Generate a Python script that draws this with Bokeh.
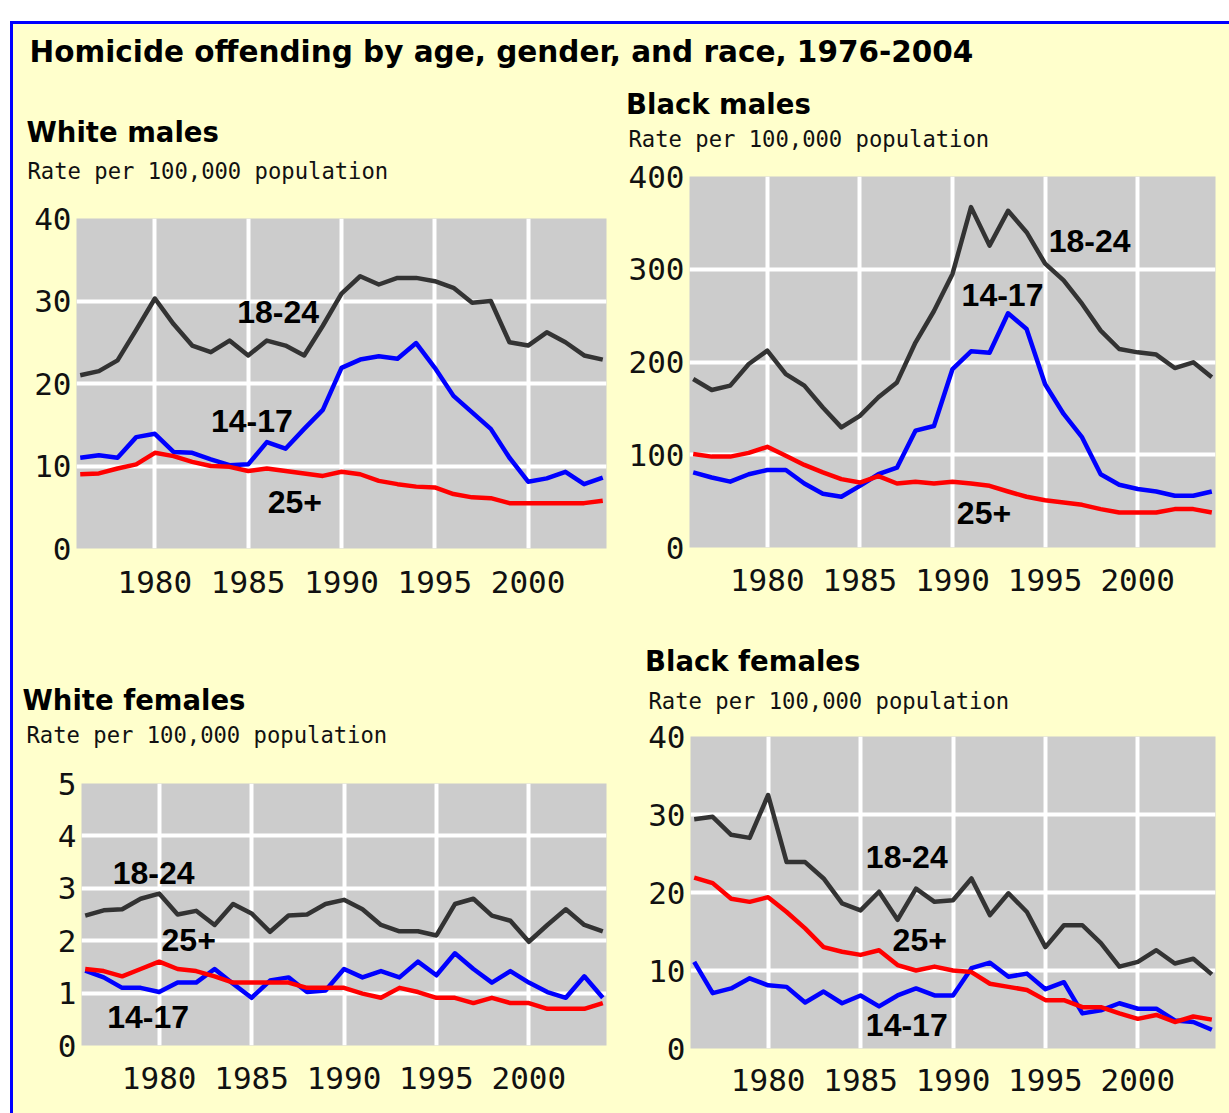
from bokeh.plotting import figure
from bokeh.models import Range1d, FixedTicker, Label, Spacer
from bokeh.layouts import row, column
from bokeh.embed import file_html
from bokeh.resources import INLINE

# ---------------- data ----------------
years = list(range(1976, 2005))

white_males_18_24 = [21.0, 21.5, 22.8, 26.5, 30.3, 27.2, 24.6, 23.8, 25.2, 23.4,
                     25.2, 24.6, 23.4, 27.0, 30.9, 33.0, 32.0, 32.8, 32.8, 32.4,
                     31.6, 29.8, 30.0, 25.0, 24.6, 26.2, 25.0, 23.4, 22.9]
white_males_14_17 = [11.0, 11.3, 11.0, 13.5, 13.9, 11.7, 11.6, 10.8, 10.1, 10.2,
                     12.9, 12.1, 14.5, 16.8, 21.9, 22.9, 23.3, 23.0, 24.9, 21.9,
                     18.5, 16.5, 14.5, 11.0, 8.1, 8.5, 9.3, 7.8, 8.6]
white_males_25p = [9.0, 9.1, 9.7, 10.2, 11.6, 11.2, 10.5, 10.0, 9.9, 9.4,
                   9.7, 9.4, 9.1, 8.8, 9.3, 9.0, 8.2, 7.8, 7.5, 7.4,
                   6.6, 6.2, 6.1, 5.5, 5.5, 5.5, 5.5, 5.5, 5.8]

black_males_18_24 = [181.7, 169.8, 174.5, 197.8, 212.2, 187.0, 174.5, 151.0, 129.5, 142.0,
                     162.0, 178.0, 221.0, 255.0, 295.0, 367.0, 325.5, 363.0, 340.0, 306.0,
                     288.0, 262.6, 233.8, 214.0, 210.4, 208.0, 193.5, 199.6, 183.5]
black_males_14_17 = [81.0, 75.5, 71.0, 79.0, 83.5, 83.5, 69.0, 58.0, 54.7, 66.5,
                     79.0, 86.0, 126.0, 131.0, 192.4, 211.5, 210.0, 252.5, 235.6, 176.0,
                     144.0, 118.7, 79.0, 67.6, 63.0, 60.4, 55.8, 55.8, 60.4]
black_males_25p = [100.7, 98.0, 98.0, 102.0, 108.6, 99.0, 89.0, 81.0, 73.7, 70.0,
                   77.0, 69.0, 71.0, 69.0, 71.0, 69.0, 66.5, 60.4, 54.7, 51.0,
                   48.6, 46.0, 41.4, 37.8, 37.8, 37.8, 41.4, 41.4, 37.8]

white_females_18_24 = [2.48, 2.58, 2.60, 2.80, 2.90, 2.50, 2.57, 2.30, 2.70, 2.52,
                       2.17, 2.48, 2.50, 2.70, 2.78, 2.60, 2.30, 2.18, 2.18, 2.10,
                       2.70, 2.80, 2.48, 2.38, 1.98, 2.30, 2.60, 2.30, 2.18]
white_females_14_17 = [1.43, 1.30, 1.10, 1.10, 1.02, 1.20, 1.20, 1.46, 1.18, 0.91,
                       1.24, 1.30, 1.02, 1.05, 1.46, 1.30, 1.42, 1.30, 1.60, 1.34,
                       1.76, 1.46, 1.20, 1.42, 1.20, 1.02, 0.91, 1.32, 0.91]
white_females_25p = [1.46, 1.42, 1.32, 1.46, 1.60, 1.46, 1.42, 1.32, 1.20, 1.20,
                     1.20, 1.20, 1.10, 1.10, 1.10, 0.99, 0.91, 1.10, 1.02, 0.91,
                     0.91, 0.81, 0.91, 0.81, 0.81, 0.70, 0.70, 0.70, 0.81]

black_females_18_24 = [29.4, 29.7, 27.4, 27.0, 32.5, 23.9, 23.9, 21.8, 18.6, 17.7,
                       20.1, 16.5, 20.5, 18.8, 19.0, 21.8, 17.1, 19.9, 17.5, 13.0,
                       15.8, 15.8, 13.5, 10.5, 11.1, 12.6, 10.9, 11.5, 9.5]
black_females_14_17 = [11.1, 7.1, 7.7, 9.0, 8.1, 7.9, 5.9, 7.3, 5.8, 6.8,
                       5.4, 6.8, 7.7, 6.8, 6.8, 10.3, 11.0, 9.2, 9.6, 7.6,
                       8.5, 4.5, 4.9, 5.8, 5.1, 5.1, 3.6, 3.4, 2.4]
black_females_25p = [21.9, 21.2, 19.2, 18.8, 19.4, 17.5, 15.4, 13.0, 12.4, 12.0,
                     12.6, 10.7, 10.0, 10.5, 10.0, 9.8, 8.3, 7.9, 7.5, 6.2,
                     6.2, 5.3, 5.3, 4.5, 3.8, 4.3, 3.4, 4.1, 3.7]

x_ticks = [1980, 1985, 1990, 1995, 2000]
wm_y_ticks = [0, 10, 20, 30, 40]
bm_y_ticks = [0, 100, 200, 300, 400]
wf_y_ticks = [0, 1, 2, 3, 4, 5]
bf_y_ticks = [0, 10, 20, 30, 40]

series_names = ["18-24", "14-17", "25+"]

main_title = "Homicide offending by age, gender, and race, 1976-2004"
subtitle = "Rate per 100,000 population"

# ---------------- styles ----------------
BG = "#ffffcc"
PLOT_BG = "#cccccc"
BORDER = "#0000ff"
COLORS = ["#333333", "#0000ff", "#ff0000"]
X_START, X_END = 1975.8, 2004.2

TITLE_FONT = "DejaVu Sans"
TICK_FONT = "DejaVu Sans Mono"
LABEL_FONT = "Liberation Sans"


def text_strip(width, height, items):
    """A figure used only as a strip of header text (frame = whole canvas)."""
    f = figure(width=width, height=height, x_range=Range1d(0, 1), y_range=Range1d(0, 1),
               min_border=0, toolbar_location=None, output_backend="svg",
               background_fill_color=BG, border_fill_color=BG, outline_line_color=None)
    f.axis.visible = False
    f.grid.visible = False
    for text, x, y, font, style, size, color in items:
        f.add_layout(Label(x=x, y=y, x_units="screen", y_units="screen", text=text,
                           text_font=font, text_font_style=style, text_font_size=size,
                           text_align="left", text_baseline="middle",
                           text_color=color))
    return f


def make_panel(canvas, header_h, frame, y_end, y_ticks, series, label_pos, title,
               title_pos, sub_pos, x_standoff):
    cx, cy, cw, ch = canvas
    fl, ft, fr, fb = frame
    hy = cy + header_h  # top of plot figure (page px)
    tx, ty = title_pos
    sx, sy = sub_pos
    header = text_strip(cw, header_h, [
        (title, tx - cx, hy - ty, TITLE_FONT, "bold", "27.5px", "#000000"),
        (subtitle, sx - cx, hy - sy, TICK_FONT, "normal", "22.2px", "#111111"),
    ])
    p = figure(width=cw, height=ch - header_h,
               x_range=Range1d(X_START, X_END), y_range=Range1d(0, y_end),
               min_border_left=fl - cx, min_border_right=cx + cw - fr,
               min_border_top=ft - hy, min_border_bottom=cy + ch - fb,
               toolbar_location=None, output_backend="svg",
               background_fill_color=PLOT_BG, border_fill_color=BG,
               outline_line_color=None)
    p.xaxis.ticker = FixedTicker(ticks=x_ticks)
    p.yaxis.ticker = FixedTicker(ticks=y_ticks)
    p.xgrid.ticker = FixedTicker(ticks=x_ticks)
    p.ygrid.ticker = FixedTicker(ticks=y_ticks)
    for g in (p.xgrid, p.ygrid):
        g.grid_line_color = "white"
        g.grid_line_width = 4
    for ax in (p.xaxis, p.yaxis):
        ax.axis_line_color = None
        ax.major_tick_line_color = None
        ax.minor_tick_line_color = None
        ax.major_tick_in = 0
        ax.major_tick_out = 0
        ax.minor_tick_in = 0
        ax.minor_tick_out = 0
        ax.major_label_text_font = TICK_FONT
        ax.major_label_text_font_size = "31px"
        ax.major_label_text_color = "#111111"
    p.xaxis.major_label_standoff = x_standoff
    p.yaxis.major_label_standoff = 5

    for vals, color in zip(series, COLORS):
        p.line(years, vals, line_color=color, line_width=4.5, line_join="round")

    for name, (lx, ly) in zip(series_names, label_pos):
        p.add_layout(Label(x=lx, y=ly, text=name, text_font=LABEL_FONT,
                           text_font_style="bold", text_font_size="32px",
                           text_align="center", text_baseline="middle",
                           text_color="#000000"))
    # header wrapped in its own row so that its frame is not aligned with the plot's
    return column(row(header), row(p))


# page coordinates (px): canvas, header height, frame, label centres, header text centres
wm = make_panel((13, 80, 607, 540), 110, (76, 218, 606, 548), 40, wm_y_ticks,
                [white_males_18_24, white_males_14_17, white_males_25p],
                [(1986.6, 28.7), (1985.2, 15.5), (1987.5, 5.6)],
                "White males", (26, 131.5), (27, 170.5), 22)
bm = make_panel((620, 80, 609, 540), 72, (689, 176, 1215, 547), 400, bm_y_ticks,
                [black_males_18_24, black_males_14_17, black_males_25p],
                [(1997.4, 330.8), (1992.7, 272.6), (1991.7, 36.9)],
                "Black males", (625.5, 103), (628, 138), 21)
wf = make_panel((13, 620, 607, 493), 130, (81, 783, 606, 1045), 5, wf_y_ticks,
                [white_females_18_24, white_females_14_17, white_females_25p],
                [(1979.7, 3.29), (1979.4, 0.54), (1981.6, 2.01)],
                "White females", (22, 699.4), (26, 734.5), 21)
bf = make_panel((620, 620, 609, 493), 94, (690, 736, 1215, 1048), 40, bf_y_ticks,
                [black_females_18_24, black_females_14_17, black_females_25p],
                [(1987.5, 24.5), (1987.5, 3.0), (1988.2, 13.9)],
                "Black females", (644.5, 660.5), (648, 700), 20)

# main title strip (page y 24..80)
top = text_strip(1216, 56, [(main_title, 29 - 13, 80 - 51.3, TITLE_FONT, "bold",
                             "29.5px", "#000000")])

inner = column(Spacer(width=1216, height=3, styles={"background-color": BORDER}),
               top, row(wm, bm), row(wf, bf),
               styles={"background-color": BG})
root = column(Spacer(width=1229, height=21),
              row(Spacer(width=10, height=1092),
                  Spacer(width=3, height=1092, styles={"background-color": BORDER}),
                  inner))

open("out.html", "w").write(file_html(root, INLINE))
